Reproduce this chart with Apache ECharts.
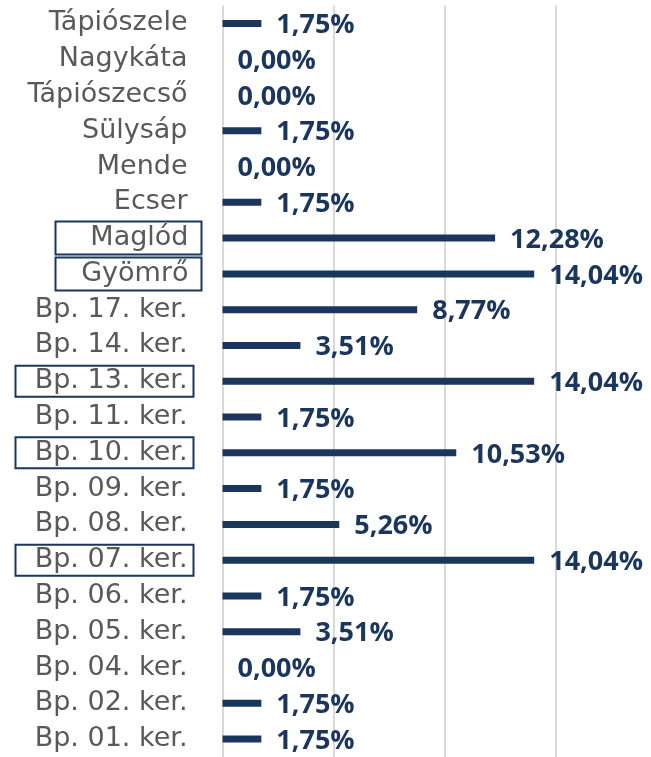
<!DOCTYPE html>
<html>
<head>
<meta charset="utf-8">
<script src="https://cdn.jsdelivr.net/npm/echarts@6/dist/echarts.min.js"></script>
<style>
  html, body { margin: 0; padding: 0; background: #fff; }
  #main { width: 651px; height: 757px; }
</style>
</head>
<body>
<div id="main"></div>
<script>
// települések / kerületek, alulról felfelé
var categories = ['Bp. 01. ker.', 'Bp. 02. ker.', 'Bp. 04. ker.', 'Bp. 05. ker.', 'Bp. 06. ker.',
  'Bp. 07. ker.', 'Bp. 08. ker.', 'Bp. 09. ker.', 'Bp. 10. ker.', 'Bp. 11. ker.', 'Bp. 13. ker.',
  'Bp. 14. ker.', 'Bp. 17. ker.', 'Gyömrő', 'Maglód', 'Ecser', 'Mende', 'Sülysáp',
  'Tápiószecső', 'Nagykáta', 'Tápiószele']
var shares = [1.75, 1.75, 0.00, 3.51, 1.75, 14.04, 5.26, 1.75, 10.53, 1.75, 14.04,
  3.51, 8.77, 14.04, 12.28, 1.75, 0.00, 1.75, 0.00, 0.00, 1.75]
// bekeretezett címkék
var boxedTowns = ['Maglód', 'Gyömrő']
var boxedDistricts = ['Bp. 13. ker.', 'Bp. 10. ker.', 'Bp. 07. ker.']
var xTicks = [0, 5, 10, 15]

var navy = '#1b365d'
var labelFont = { fontFamily: 'DejaVu Sans', fontSize: 27, color: '#595959' }
var chart = echarts.init(document.getElementById('main'))

chart.setOption({
  animation: false,
  grid: { left: 222.5, right: 95.5, top: 5.5, height: 754 },
  xAxis: {
    type: 'value',
    min: xTicks[0],
    max: xTicks[xTicks.length - 1],
    interval: xTicks[1] - xTicks[0],
    axisLabel: { show: false },
    axisLine: { show: false },
    axisTick: { show: false },
    splitLine: { lineStyle: { color: '#d9d9d9', width: 2 } }
  },
  yAxis: {
    type: 'category',
    data: categories,
    axisLine: { show: false },
    axisTick: { show: false },
    axisLabel: {
      margin: 21,
      formatter: function (v) {
        if (boxedTowns.indexOf(v) >= 0) return '{boxM|' + v + '}'
        if (boxedDistricts.indexOf(v) >= 0) return '{boxB|' + v + '}{gap| }'
        return '{plain|' + v + '}'
      },
      rich: {
        plain: Object.assign({ padding: [0, 14, 0, 0] }, labelFont),
        boxM: Object.assign({
          borderColor: navy, borderWidth: 2,
          width: 133, height: 33, align: 'right',
          padding: [0, 13, 0, 0]
        }, labelFont),
        boxB: Object.assign({
          borderColor: navy, borderWidth: 2,
          width: 172, height: 31, align: 'right',
          padding: [0, 6, 0, 0]
        }, labelFont),
        gap: { width: 8, fontSize: 27 }
      }
    }
  },
  series: [{
    type: 'bar',
    data: shares,
    barWidth: 7,
    itemStyle: { color: navy },
    label: {
      show: true,
      position: 'right',
      distance: 15,
      offset: [0, 2],
      fontFamily: 'Open Sans',
      fontWeight: 'bold',
      fontSize: 27,
      color: navy,
      formatter: function (p) {
        return p.value.toFixed(2).replace('.', ',') + '%'
      }
    }
  }]
})
</script>
</body>
</html>
